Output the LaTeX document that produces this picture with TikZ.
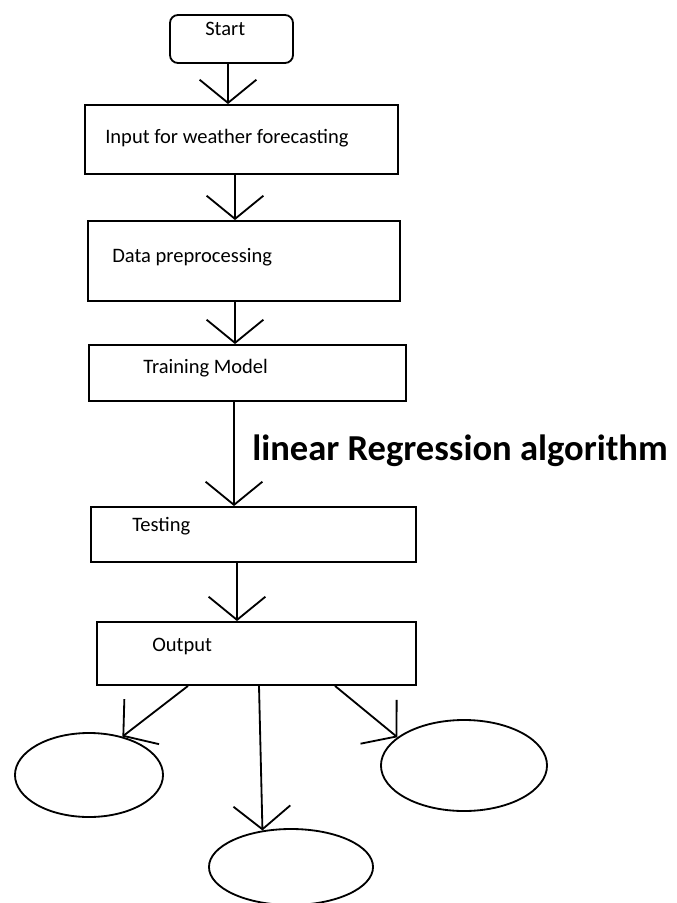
\documentclass[tikz,border=0pt]{standalone}
\usepackage{fontspec}
\setmainfont{Carlito}
\usetikzlibrary{arrows.meta,shapes.geometric}
\tikzset{
  box/.style={draw, line width=1.3pt, inner sep=0pt, rectangle},
  startbox/.style={box, rounded corners=0.2cm},
  oval/.style={draw, line width=1.3pt, ellipse, inner sep=0pt},
  txt/.style={anchor=base west, inner sep=0pt, font=\fontsize{14.6}{17}\selectfont},
  bigtxt/.style={anchor=base west, inner sep=0pt, font=\fontsize{26}{30}\selectfont\bfseries},
  arr/.style={line width=1.3pt, -{Straight Barb[length=0.58cm,width=1.42cm,line width=1.3pt]}}
}
\begin{document}
\begin{tikzpicture}[x=0.025cm,y=-0.025cm]
\useasboundingbox (0,0) rectangle (677,903);
\fill[white] (0,0) rectangle (677,903);
% boxes
\node[startbox, minimum width=3.075cm, minimum height=1.2cm] (start) at (231.5,39) {};
\node[box, minimum width=7.825cm, minimum height=1.725cm] (inp) at (241.5,139.5) {};
\node[box, minimum width=7.8cm, minimum height=2.0cm] (data) at (244,261) {};
\node[box, minimum width=7.925cm, minimum height=1.4cm] (train) at (247.5,373) {};
\node[box, minimum width=8.125cm, minimum height=1.375cm] (test) at (253.5,534.5) {};
\node[box, minimum width=7.975cm, minimum height=1.575cm] (out) at (256.5,653.5) {};
% ellipses
\node[oval, minimum width=3.7cm, minimum height=2.1cm] (el1) at (89,775) {};
\node[oval, minimum width=4.1cm, minimum height=1.9cm] (el2) at (291,867) {};
\node[oval, minimum width=4.15cm, minimum height=2.275cm] (el3) at (464,765.5) {};
% texts
\node[txt] (tstart) at (205,35) {Start};
\node[txt] (tinp) at (105,143) {Input for weather forecasting};
\node[txt] (tdata) at (112,262) {Data preprocessing};
\node[txt] (ttrain) at (143,373) {Training Model};
\node[txt] (ttest) at (132,531) {Testing};
\node[txt] (tout) at (152,651) {Output};
\node[bigtxt] (lra) at (252,460) {linear Regression algorithm};
% connectors
\draw[arr] (start.south -| 228,0) -- (inp.north -| 228,0);
\draw[arr] (inp.south -| 235,0) -- (data.north -| 235,0);
\draw[arr] (data.south -| 235,0) -- (train.north -| 235,0);
\draw[arr] (train.south -| 234,0) -- (test.north -| 234,0);
\draw[arr] (test.south -| 237,0) -- (out.north -| 237,0);
\draw[arr] (out.south -| 188,0) -- (el1.49);
\draw[arr] (out.south -| 259,0) -- (el2.128);
\draw[arr] (out.south -| 335,0) -- (el3.157);
\end{tikzpicture}
\end{document}
